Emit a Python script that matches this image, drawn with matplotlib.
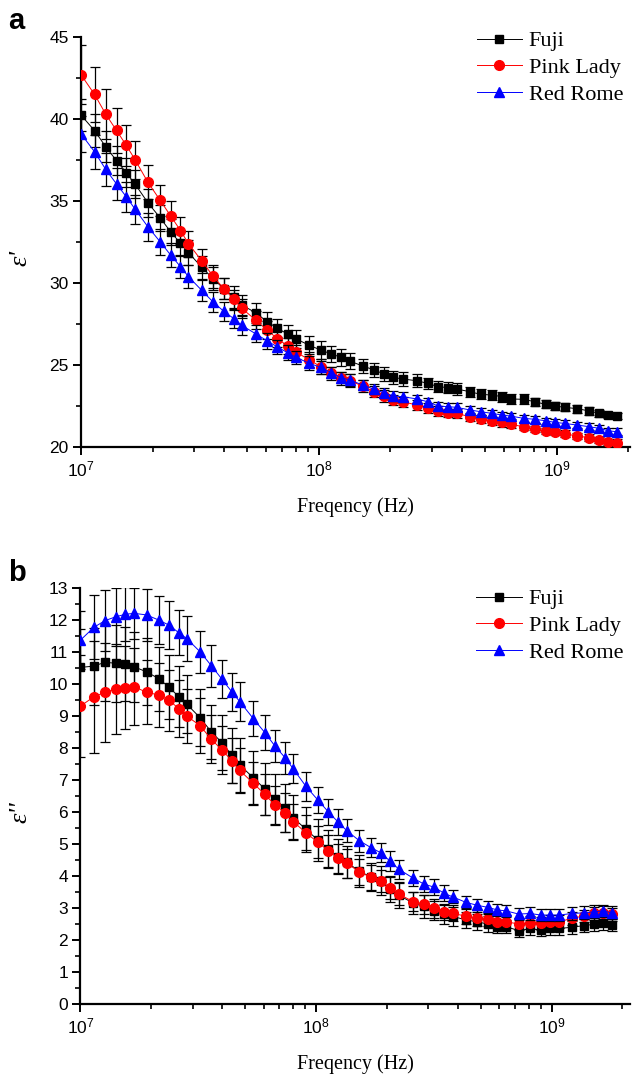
import matplotlib
matplotlib.use("Agg")
import matplotlib.pyplot as plt
from matplotlib.ticker import LogLocator, MultipleLocator, LogFormatterMathtext

plt.rcParams['font.family'] = ['Liberation Sans', 'DejaVu Sans']
plt.rcParams['mathtext.fontset'] = 'custom'
plt.rcParams['mathtext.rm'] = 'Liberation Sans'
plt.rcParams['mathtext.it'] = 'Liberation Sans:italic'

# frequencies (Hz)
freq = [1.00e7, 1.14e7, 1.27e7, 1.41e7, 1.55e7, 1.69e7, 1.91e7, 2.15e7, 2.38e7, 2.62e7,
        2.83e7, 3.22e7, 3.60e7, 3.99e7, 4.40e7, 4.75e7, 5.42e7, 6.07e7, 6.70e7, 7.39e7,
        8.01e7, 9.07e7, 1.02e8, 1.13e8, 1.24e8, 1.35e8, 1.53e8, 1.71e8, 1.88e8, 2.06e8,
        2.25e8, 2.59e8, 2.87e8, 3.18e8, 3.50e8, 3.80e8, 4.32e8, 4.81e8, 5.36e8, 5.89e8,
        6.41e8, 7.26e8, 8.11e8, 9.00e8, 9.86e8, 1.08e9, 1.22e9, 1.37e9, 1.51e9, 1.65e9,
        1.80e9]

labels = ["Fuji", "Pink Lady", "Red Rome"]

# dielectric constant e'
fuji_e1 = [40.24, 39.29, 38.31, 37.46, 36.73, 36.02, 34.9, 33.98, 33.13, 32.42,
           31.85, 30.96, 30.25, 29.65, 29.15, 28.66, 28.19, 27.64, 27.24, 26.89,
           26.6, 26.22, 25.91, 25.67, 25.47, 25.24, 24.94, 24.7, 24.45, 24.25,
           24.15, 24.04, 23.88, 23.68, 23.62, 23.54, 23.37, 23.21, 23.17, 23.07,
           22.93, 22.91, 22.76, 22.6, 22.5, 22.42, 22.34, 22.2, 22.05, 21.95,
           21.89]
pink_e1 = [42.7, 41.5, 40.3, 39.3, 38.4, 37.5, 36.15, 35.05, 34.1, 33.2,
           32.4, 31.35, 30.4, 29.65, 29.0, 28.45, 27.75, 27.13, 26.6, 26.17,
           25.8, 25.33, 24.9, 24.49, 24.19, 24.04, 23.72, 23.37, 23.11, 22.87,
           22.76, 22.56, 22.36, 22.2, 22.09, 22.05, 21.85, 21.69, 21.6, 21.5,
           21.38, 21.24, 21.1, 20.99, 20.91, 20.81, 20.67, 20.57, 20.43, 20.32,
           20.26]
rome_e1 = [39.1, 38.0, 36.93, 36.04, 35.26, 34.49, 33.43, 32.52, 31.71, 31.0,
           30.39, 29.55, 28.83, 28.27, 27.82, 27.41, 26.91, 26.47, 26.1, 25.75,
           25.47, 25.12, 24.85, 24.53, 24.23, 24.09, 23.78, 23.52, 23.31, 23.11,
           23.07, 22.93, 22.76, 22.5, 22.46, 22.42, 22.26, 22.15, 22.05, 21.95,
           21.89, 21.75, 21.69, 21.6, 21.5, 21.44, 21.34, 21.24, 21.14, 20.99,
           20.93]

fuji_e1_err = [1.0, 1.0, 0.95, 0.9, 0.9, 0.85, 0.85, 0.8, 0.8, 0.75,
               0.75, 0.7, 0.7, 0.65, 0.65, 0.6, 0.6, 0.6, 0.55, 0.55,
               0.55, 0.55, 0.55, 0.5, 0.5, 0.5, 0.45, 0.45, 0.45, 0.4,
               0.4, 0.4, 0.35, 0.35, 0.35, 0.35, 0.3, 0.3, 0.3, 0.3,
               0.3, 0.3, 0.25, 0.25, 0.25, 0.25, 0.25, 0.25, 0.2, 0.2,
               0.2]
pink_e1_err = [1.8, 1.7, 1.5, 1.35, 1.25, 1.15, 1.05, 0.95, 0.9, 0.85,
               0.8, 0.75, 0.7, 0.65, 0.6, 0.6, 0.55, 0.55, 0.5, 0.5,
               0.45, 0.45, 0.45, 0.4, 0.4, 0.4, 0.35, 0.35, 0.35, 0.3,
               0.3, 0.3, 0.3, 0.3, 0.25, 0.25, 0.25, 0.25, 0.25, 0.25,
               0.2, 0.2, 0.2, 0.2, 0.2, 0.2, 0.2, 0.2, 0.2, 0.2,
               0.2]
rome_e1_err = [1.1, 1.05, 1.0, 0.95, 0.9, 0.9, 0.85, 0.8, 0.75, 0.7,
               0.7, 0.65, 0.6, 0.6, 0.55, 0.55, 0.5, 0.5, 0.45, 0.45,
               0.4, 0.4, 0.4, 0.35, 0.35, 0.35, 0.3, 0.3, 0.3, 0.3,
               0.3, 0.25, 0.25, 0.25, 0.25, 0.25, 0.25, 0.2, 0.2, 0.2,
               0.2, 0.2, 0.2, 0.2, 0.2, 0.2, 0.2, 0.2, 0.2, 0.2,
               0.2]

# loss factor e''
fuji_e2 = [10.52, 10.56, 10.68, 10.65, 10.62, 10.54, 10.38, 10.17, 9.9, 9.6,
           9.37, 8.95, 8.5, 8.17, 7.77, 7.47, 7.07, 6.72, 6.4, 6.12,
           5.82, 5.46, 5.12, 4.85, 4.6, 4.43, 4.15, 3.97, 3.85, 3.6,
           3.4, 3.15, 3.05, 2.92, 2.8, 2.74, 2.63, 2.57, 2.5, 2.42,
           2.42, 2.29, 2.36, 2.31, 2.36, 2.36, 2.4, 2.45, 2.49, 2.52,
           2.47]
pink_e2 = [9.31, 9.6, 9.74, 9.84, 9.88, 9.92, 9.74, 9.66, 9.49, 9.23,
           9.0, 8.7, 8.27, 7.94, 7.6, 7.3, 6.9, 6.55, 6.22, 5.98,
           5.7, 5.35, 5.05, 4.79, 4.55, 4.4, 4.13, 3.96, 3.85, 3.62,
           3.43, 3.2, 3.12, 2.99, 2.88, 2.83, 2.75, 2.68, 2.65, 2.57,
           2.57, 2.5, 2.54, 2.52, 2.57, 2.57, 2.68, 2.75, 2.83, 2.85,
           2.8]
rome_e2 = [11.37, 11.77, 11.98, 12.1, 12.18, 12.21, 12.16, 12.0, 11.84, 11.6,
           11.42, 11.01, 10.57, 10.15, 9.75, 9.45, 8.92, 8.48, 8.06, 7.7,
           7.35, 6.8, 6.37, 6.0, 5.69, 5.42, 5.1, 4.89, 4.73, 4.47,
           4.21, 3.93, 3.75, 3.65, 3.46, 3.35, 3.18, 3.09, 3.02, 2.94,
           2.91, 2.81, 2.83, 2.78, 2.78, 2.78, 2.83, 2.85, 2.88, 2.91,
           2.85]

fuji_e2_err = [1.2, 1.2, 1.2, 1.2, 1.15, 1.1, 1.05, 1.0, 1.0, 0.95,
               0.9, 0.9, 0.85, 0.85, 0.85, 0.85, 0.85, 0.8, 0.8, 0.75,
               0.7, 0.7, 0.65, 0.6, 0.55, 0.5, 0.5, 0.45, 0.45, 0.4,
               0.4, 0.35, 0.35, 0.3, 0.3, 0.3, 0.25, 0.25, 0.25, 0.2,
               0.2, 0.2, 0.2, 0.2, 0.2, 0.2, 0.2, 0.2, 0.2, 0.2,
               0.2]
pink_e2_err = [1.6, 1.75, 1.55, 1.4, 1.3, 1.2, 1.0, 1.0, 0.95, 0.9,
               0.85, 0.85, 0.75, 0.75, 0.7, 0.7, 0.65, 0.65, 0.6, 0.6,
               0.55, 0.55, 0.5, 0.5, 0.45, 0.45, 0.4, 0.4, 0.35, 0.35,
               0.35, 0.3, 0.3, 0.3, 0.25, 0.25, 0.25, 0.25, 0.2, 0.2,
               0.2, 0.2, 0.2, 0.2, 0.2, 0.2, 0.2, 0.2, 0.2, 0.2,
               0.2]
rome_e2_err = [0.9, 1.0, 0.95, 0.9, 0.85, 0.8, 0.8, 0.75, 0.75, 0.7,
               0.7, 0.65, 0.65, 0.6, 0.6, 0.6, 0.55, 0.55, 0.5, 0.5,
               0.45, 0.45, 0.4, 0.4, 0.4, 0.35, 0.35, 0.3, 0.3, 0.3,
               0.3, 0.25, 0.25, 0.25, 0.25, 0.2, 0.2, 0.2, 0.2, 0.2,
               0.2, 0.2, 0.2, 0.2, 0.2, 0.2, 0.2, 0.2, 0.2, 0.2,
               0.2]

colors = ["#000000", "#ff0000", "#0000ff"]
markers = ["s", "o", "^"]
msizes = [5.5, 7, 7.5]


def draw_panel(ax, series, errs, xmax, ylim, ymajor, yminor, leg_anchor):
    for i in range(3):
        ax.errorbar(freq, series[i], yerr=errs[i], fmt="none", ecolor="black",
                    elinewidth=0.9, capsize=3.6, capthick=0.9, zorder=2 + i)
        ax.plot(freq, series[i], color=colors[i], lw=0.7, marker=markers[i],
                ms=msizes[i], mfc=colors[i], mec=colors[i], label=labels[i],
                zorder=2.5 + i)
    ax.set_xscale("log")
    ax.set_xlim(1e7, xmax)
    ax.set_ylim(*ylim)
    ax.xaxis.set_major_locator(LogLocator(base=10, numticks=10))
    ax.xaxis.set_minor_locator(LogLocator(base=10, subs=range(2, 10), numticks=10))
    ax.xaxis.set_major_formatter(LogFormatterMathtext())
    ax.yaxis.set_major_locator(MultipleLocator(ymajor))
    ax.yaxis.set_minor_locator(MultipleLocator(yminor))
    for s in ["top", "right"]:
        ax.spines[s].set_visible(False)
    for s in ["left", "bottom"]:
        ax.spines[s].set_linewidth(1.6)
    ax.tick_params(which="major", direction="out", length=6, width=1.4,
                   labelsize=12.5, pad=3)
    ax.tick_params(which="minor", direction="out", length=3.5, width=1.2)
    ax.set_xlabel("Freqency (Hz)", family="Liberation Serif", fontsize=14.5,
                  labelpad=13)
    ax.legend(loc="upper left", bbox_to_anchor=leg_anchor, frameon=False,
              prop={"family": "Liberation Serif", "size": 16},
              handlelength=2.05, handletextpad=0.3, labelspacing=0.28,
              borderaxespad=0, borderpad=0)


fig = plt.figure(figsize=(6.38, 10.79), dpi=100)
ax1 = fig.add_axes([0.127, 0.5857, 0.860, 0.380])
ax2 = fig.add_axes([0.126, 0.0695, 0.862, 0.3855])

draw_panel(ax1, [fuji_e1, pink_e1, rome_e1], [fuji_e1_err, pink_e1_err, rome_e1_err],
           2.03e9, (20, 45), 5, 2.5, (0.721, 1.015))
draw_panel(ax2, [fuji_e2, pink_e2, rome_e2], [fuji_e2_err, pink_e2_err, rome_e2_err],
           2.16e9, (0, 13), 1, 0.5, (0.72, 0.998))

fig.text(20 / 638, 1 - 258 / 1079, "\u03b5'", rotation=90, ha="center", va="center",
         family=["Liberation Serif", "DejaVu Serif"], style="italic", fontsize=19)
fig.text(20 / 638, 1 - 812 / 1079, "\u03b5''", rotation=90, ha="center", va="center",
         family=["Liberation Serif", "DejaVu Serif"], style="italic", fontsize=19)

fig.text(8 / 638, 1 - 29 / 1079, "a", fontsize=21, fontweight="bold")
fig.text(8 / 638, 1 - 581 / 1079, "b", fontsize=21, fontweight="bold")

fig.savefig("out.png", dpi=100)
